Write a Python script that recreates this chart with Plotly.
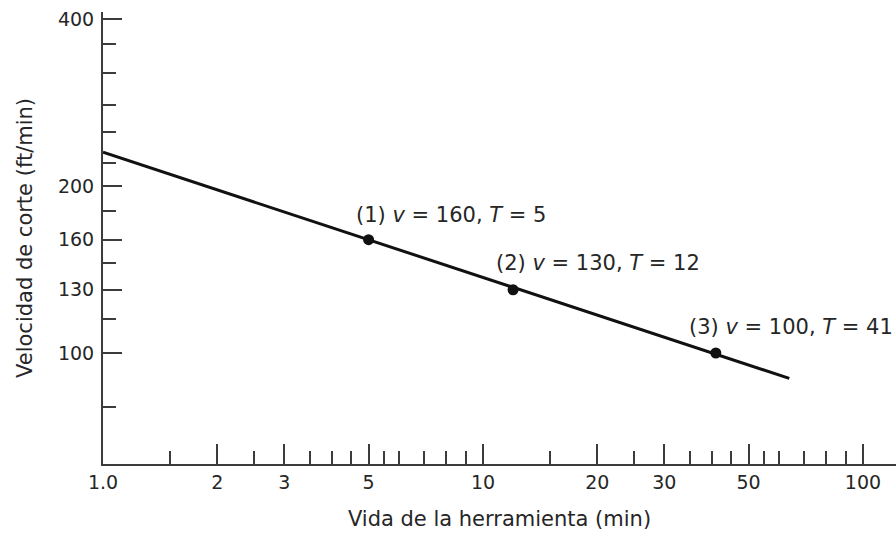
import math
import plotly.graph_objects as go

# Tool life test points (Taylor tool-life data)
tool_life = [5, 12, 41]            # T, min
cutting_speed = [160, 130, 100]    # v, ft/min
point_labels = ["(1) <i>v</i> = 160, <i>T</i> = 5",
                "(2) <i>v</i> = 130, <i>T</i> = 12",
                "(3) <i>v</i> = 100, <i>T</i> = 41"]

# Straight log-log tool-life line, end points
line_T = [1.0, 64]
line_v = [230, 90]

# Axis ticks
x_tickvals = [1, 2, 3, 5, 10, 20, 30, 50, 100]
x_ticktext = ["1.0", "2", "3", "5", "10", "20", "30", "50", "100"]
x_minor = [1.5, 2.5, 3.5, 4, 4.5, 5.5, 6, 7, 8, 9,
           15, 25, 35, 40, 45, 55, 60, 70, 80, 90]
y_tickvals = [100, 130, 160, 200, 400]
y_ticktext = ["100", "130", "160", "200", "400"]
y_minor = [80, 115, 145, 180, 220, 250, 280, 320, 360]

INK = "#111111"
AXIS = "#3c3c3c"
TEXT = "#262626"
FONT = "DejaVu Sans"

fig = go.Figure()
fig.add_trace(go.Scatter(x=line_T, y=line_v, mode="lines",
                         line=dict(color=INK, width=3), hoverinfo="skip",
                         showlegend=False))
fig.add_trace(go.Scatter(x=tool_life, y=cutting_speed, mode="markers",
                         marker=dict(color=INK, size=11), showlegend=False))

# Label offsets (px) relative to each point; log axes take log10 positions
shifts = [(-15, 25), (-19, 27), (-29, 26)]
for T, v, txt, (dx, dy) in zip(tool_life, cutting_speed, point_labels, shifts):
    fig.add_annotation(x=math.log10(T), y=math.log10(v), xref="x", yref="y",
                       text=txt, showarrow=False,
                       xanchor="left", yanchor="middle",
                       xshift=dx, yshift=dy,
                       font=dict(family=FONT, size=21, color=TEXT))

fig.update_layout(
    width=896, height=536,
    margin=dict(l=103, r=0, t=12, b=72),
    paper_bgcolor="white", plot_bgcolor="white",
    font=dict(family=FONT, color=TEXT),
)

fig.update_xaxes(
    type="log", range=[0, 2.087],
    showline=True, linecolor=AXIS, linewidth=2,
    showgrid=False, zeroline=False,
    tickmode="array", tickvals=x_tickvals, ticktext=x_ticktext,
    ticks="inside", ticklen=20, tickwidth=1.5, tickcolor=AXIS,
    tickfont=dict(family=FONT, size=19, color=TEXT),
    minor=dict(tickmode="array", tickvals=x_minor, ticks="inside",
               ticklen=13, tickwidth=1.5, tickcolor=AXIS, showgrid=False),
    title=dict(text="Vida de la herramienta (min)", standoff=20,
               font=dict(family=FONT, size=21, color=TEXT)),
)

fig.update_yaxes(
    type="log", range=[1.8, 2.6144],
    showline=True, linecolor=AXIS, linewidth=2,
    showgrid=False, zeroline=False,
    tickmode="array", tickvals=y_tickvals, ticktext=y_ticktext,
    ticks="inside", ticklen=19, tickwidth=1.5, tickcolor=AXIS,
    tickfont=dict(family=FONT, size=19, color=TEXT),
    ticklabelstandoff=3,
    minor=dict(tickmode="array", tickvals=y_minor, ticks="inside",
               ticklen=13, tickwidth=1.5, tickcolor=AXIS, showgrid=False),
    title=dict(text="Velocidad de corte (ft/min)", standoff=20,
               font=dict(family=FONT, size=21, color=TEXT)),
)

fig.write_html("out.html")
